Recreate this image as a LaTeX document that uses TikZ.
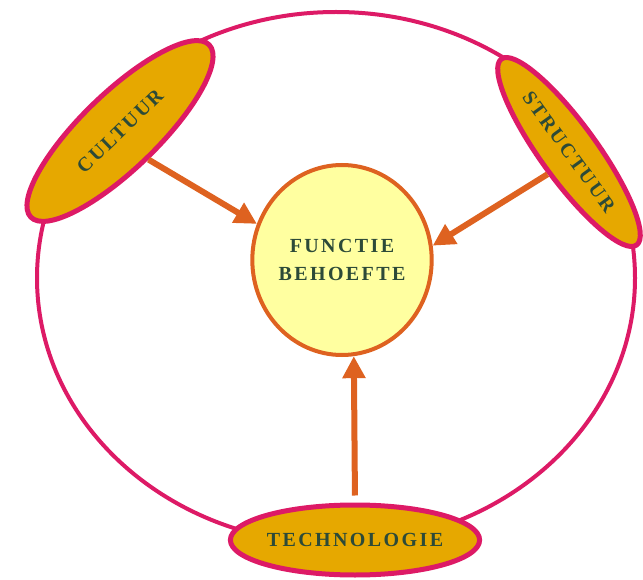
\documentclass[tikz,border=0pt]{standalone}
\usepackage{fontspec}
\setmainfont{Liberation Serif}
\newfontfamily\lblfont[LetterSpace=12]{Liberation Serif}
\usetikzlibrary{shapes.geometric,arrows.meta}
\definecolor{rimred}{HTML}{DD1A66}
\definecolor{goldfill}{HTML}{E6A800}
\definecolor{paleyel}{HTML}{FFFFA0}
\definecolor{rust}{HTML}{DE6220}
\definecolor{txtgreen}{HTML}{2C4A38}
\tikzset{
  outer/.style={draw=rimred, line width=4pt},
  factor/.style={ellipse, draw=rimred, line width=5pt, fill=goldfill, inner sep=0pt,
    text=txtgreen, font=\lblfont\bfseries\fontsize{20}{22}\selectfont},
  hub/.style={ellipse, draw=rust, line width=4pt, fill=paleyel, inner sep=0pt,
    minimum width=178pt, minimum height=190pt, align=center,
    text=txtgreen, font=\lblfont\bfseries\fontsize{20}{28}\selectfont},
  push/.style={draw=rust, line width=6pt, -{Triangle[length=22pt,width=22pt]}}
}
\begin{document}
\begin{tikzpicture}[x=1pt,y=-1pt]
\useasboundingbox (0,0) rectangle (643,580);
\draw[outer] (336,278) ellipse [x radius=299pt, y radius=266pt];
\node[hub] (fc) at (342,260) {FUNCTIE\\BEHOEFTE};
\node[factor, rotate=44, minimum width=248pt, minimum height=76pt] (cul) at (120,131) {CULTUUR};
\node[factor, rotate=-54, minimum width=230pt, minimum height=56pt] (stru) at (569,152) {STRUCTUUR};
\node[factor, minimum width=228pt, minimum height=70pt] (tech) at (355,540) {TECHNOLOGIE};
\draw[push] (cul.-89) -- (fc.157);
\draw[push] (stru.-80) -- (fc.9);
\draw[push, shorten <=7pt] (tech.north) -- (fc.-83);
\end{tikzpicture}
\end{document}
